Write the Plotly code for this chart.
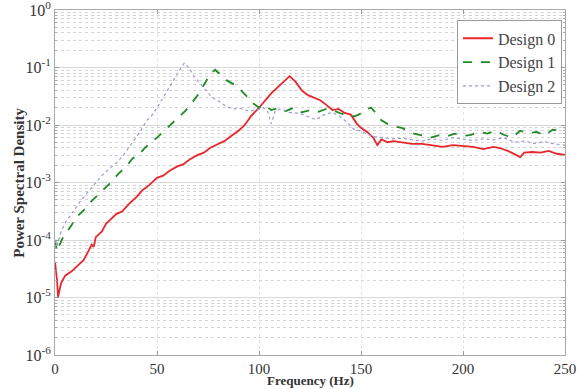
import plotly.graph_objects as go

# Frequencies (Hz) and PSD values (stored as log10 of PSD)
f0 = [0, 1, 1.5, 3, 5, 8, 11, 14, 16, 18, 19, 20, 23, 25, 27, 30, 33, 36, 40, 43, 46, 50, 53, 56, 60, 63, 66, 70, 73, 76,
      80, 83, 86, 90, 93, 96, 100, 103, 106, 109, 112, 115, 118, 121, 124, 127, 130, 133, 136, 139, 142, 145, 148, 150,
      153, 156, 158, 160, 163, 166, 170, 175, 180, 185, 190, 195, 200, 205, 210, 215, 218, 222, 226, 228, 230, 234, 238,
      242, 246, 250]
d0 = [-4.38, -4.7, -4.99, -4.75, -4.62, -4.55, -4.45, -4.35, -4.22, -4.08, -4.12, -3.95, -3.85, -3.72, -3.65, -3.55,
      -3.5, -3.38, -3.25, -3.13, -3.05, -2.92, -2.88, -2.8, -2.72, -2.68, -2.6, -2.52, -2.48, -2.4, -2.33, -2.28, -2.2,
      -2.1, -2.0, -1.85, -1.7, -1.58, -1.45, -1.35, -1.25, -1.15, -1.25, -1.4, -1.48, -1.52, -1.57, -1.65, -1.74, -1.72,
      -1.79, -1.82, -1.98, -2.05, -2.12, -2.22, -2.35, -2.25, -2.3, -2.28, -2.3, -2.33, -2.33, -2.35, -2.38, -2.35, -2.37,
      -2.38, -2.42, -2.38, -2.4, -2.45, -2.52, -2.56, -2.48, -2.47, -2.48, -2.45, -2.5, -2.52]

f1 = [0, 1, 2, 4, 6, 8, 10, 12, 15, 18, 22, 25, 28, 31, 35, 38, 41, 44, 47, 50, 53, 55, 58, 61, 64, 67, 70, 73, 76, 78.5,
      81, 84, 88, 91, 94, 97, 100, 103, 106, 110, 113, 117, 121, 125, 129, 133, 136, 140, 143, 147, 150, 153, 155, 157,
      160, 163, 166, 170, 173, 176, 180, 184, 188, 192, 196, 200, 204, 208, 212, 216, 220, 224, 228, 232, 236, 240, 244,
      248, 250]
d1 = [-4.0, -4.2, -4.1, -3.95, -3.85, -3.75, -3.62, -3.55, -3.45, -3.32, -3.19, -3.08, -2.98, -2.85, -2.72, -2.58,
      -2.52, -2.4, -2.3, -2.22, -2.12, -2.05, -1.95, -1.85, -1.75, -1.62, -1.48, -1.3, -1.12, -1.04, -1.12, -1.22, -1.3,
      -1.39, -1.5, -1.62, -1.7, -1.66, -1.74, -1.7, -1.76, -1.7, -1.78, -1.74, -1.77, -1.72, -1.74, -1.8, -1.82, -1.85,
      -1.8, -1.72, -1.7, -1.78, -1.92, -1.98, -2.02, -2.05, -2.1, -2.15, -2.18, -2.22, -2.18, -2.2, -2.15, -2.19, -2.17,
      -2.12, -2.15, -2.1, -2.17, -2.22, -2.1, -2.14, -2.12, -2.18, -2.08, -2.1, -2.06]

f2 = [0, 1, 3, 5, 8, 10, 13, 17, 20, 23, 26, 30, 33, 36, 39, 42, 45, 47, 50, 53, 55, 58, 61, 63.5, 66, 68, 71, 74, 77,
      80, 84, 87, 91, 95, 99, 102, 104, 106, 108, 111, 115, 120, 124, 128, 132, 136, 140, 144, 147, 150, 153, 156, 160,
      165, 170, 175, 180, 185, 190, 195, 200, 205, 210, 215, 220, 225, 230, 235, 240, 245, 250]
d2 = [-4.0, -4.1, -3.85, -3.7, -3.55, -3.45, -3.3, -3.13, -3.0, -2.88, -2.78, -2.66, -2.55, -2.4, -2.25, -2.1, -1.92,
      -1.86, -1.7, -1.52, -1.39, -1.22, -1.05, -0.92, -1.02, -1.15, -1.27, -1.4, -1.52, -1.58, -1.68, -1.72, -1.71,
      -1.76, -1.74, -1.7, -1.74, -1.98, -1.75, -1.72, -1.78, -1.8, -1.86, -1.91, -1.82, -1.78, -1.86, -1.98, -2.09, -2.1,
      -2.16, -2.2, -2.22, -2.24, -2.23, -2.26, -2.28, -2.24, -2.27, -2.22, -2.25, -2.27, -2.24, -2.26, -2.22, -2.3,
      -2.28, -2.32, -2.29, -2.33, -2.35]

names = ["Design 0", "Design 1", "Design 2"]
y_tick_vals = [1e-6, 1e-5, 1e-4, 1e-3, 1e-2, 1e-1, 1]
y_tick_text = ["10<sup>-6</sup>", "10<sup>-5</sup>", "10<sup>-4</sup>", "10<sup>-3</sup>",
               "10<sup>-2</sup>", "10<sup>-1</sup>", "10<sup>0</sup>"]
x_tick_vals = [0, 50, 100, 150, 200, 250]
x_title = "Frequency (Hz)"
y_title = "Power Spectral Density"

FONT = "Liberation Serif, Times New Roman, serif"

fig = go.Figure()
fig.add_trace(go.Scatter(x=f0, y=[10 ** v for v in d0], mode="lines", name=names[0],
                         line=dict(color="#e8262b", width=1.8)))
fig.add_trace(go.Scatter(x=f1, y=[10 ** v for v in d1], mode="lines", name=names[1],
                         line=dict(color="#1f8a24", width=1.8, dash="dash")))
fig.add_trace(go.Scatter(x=f2, y=[10 ** v for v in d2], mode="lines", name=names[2],
                         line=dict(color="#9a9ad8", width=1.2, dash="dot")))

fig.update_layout(
    width=586, height=389,
    margin=dict(l=55, r=21, t=10, b=34),
    paper_bgcolor="white", plot_bgcolor="white",
    font=dict(family=FONT, color="#333333", size=15),
    showlegend=True,
    legend=dict(x=0.994, y=0.97, xanchor="right", yanchor="top",
                bgcolor="white", bordercolor="#999999", borderwidth=1,
                font=dict(family=FONT, size=16, color="#444444"),
                tracegroupgap=0, itemwidth=30),
    annotations=[
        dict(text="<b>" + x_title + "</b>", xref="paper", yref="paper", x=0.5, y=-0.0986,
             xanchor="center", yanchor="bottom", showarrow=False, borderpad=0,
             font=dict(family=FONT, size=13, color="#333333")),
        dict(text="<b>" + y_title + "</b>", xref="paper", yref="paper", x=-0.072, y=0.5,
             xanchor="center", yanchor="middle", showarrow=False, textangle=-90,
             font=dict(family=FONT, size=15, color="#333333")),
    ],
)
fig.update_xaxes(
    range=[0, 250], tickvals=x_tick_vals, ticks="inside", ticklen=4, tickcolor="#999999",
    showline=True, linecolor="#aaaaaa", mirror="ticks", linewidth=1,
    showgrid=True, gridcolor="#e2e2e2", griddash="dot", zeroline=False, automargin=False,
    ticklabeloverflow="allow",
    tickfont=dict(family=FONT, size=15, color="#333333"),
)
fig.update_yaxes(
    type="log", range=[-6, 0], tickvals=y_tick_vals, ticktext=y_tick_text,
    ticks="inside", ticklen=4, tickcolor="#999999",
    showline=True, linecolor="#aaaaaa", mirror="ticks", linewidth=1,
    showgrid=True, gridcolor="#d8d8d8", gridwidth=1, zeroline=False, automargin=False,
    ticklabeloverflow="allow",
    minor=dict(dtick="D1", showgrid=True, gridcolor="#d4d4d4", griddash="dot", ticks="inside",
               ticklen=2, tickcolor="#aaaaaa"),
    tickfont=dict(family=FONT, size=16, color="#333333"),
)

fig.write_html("out.html")
